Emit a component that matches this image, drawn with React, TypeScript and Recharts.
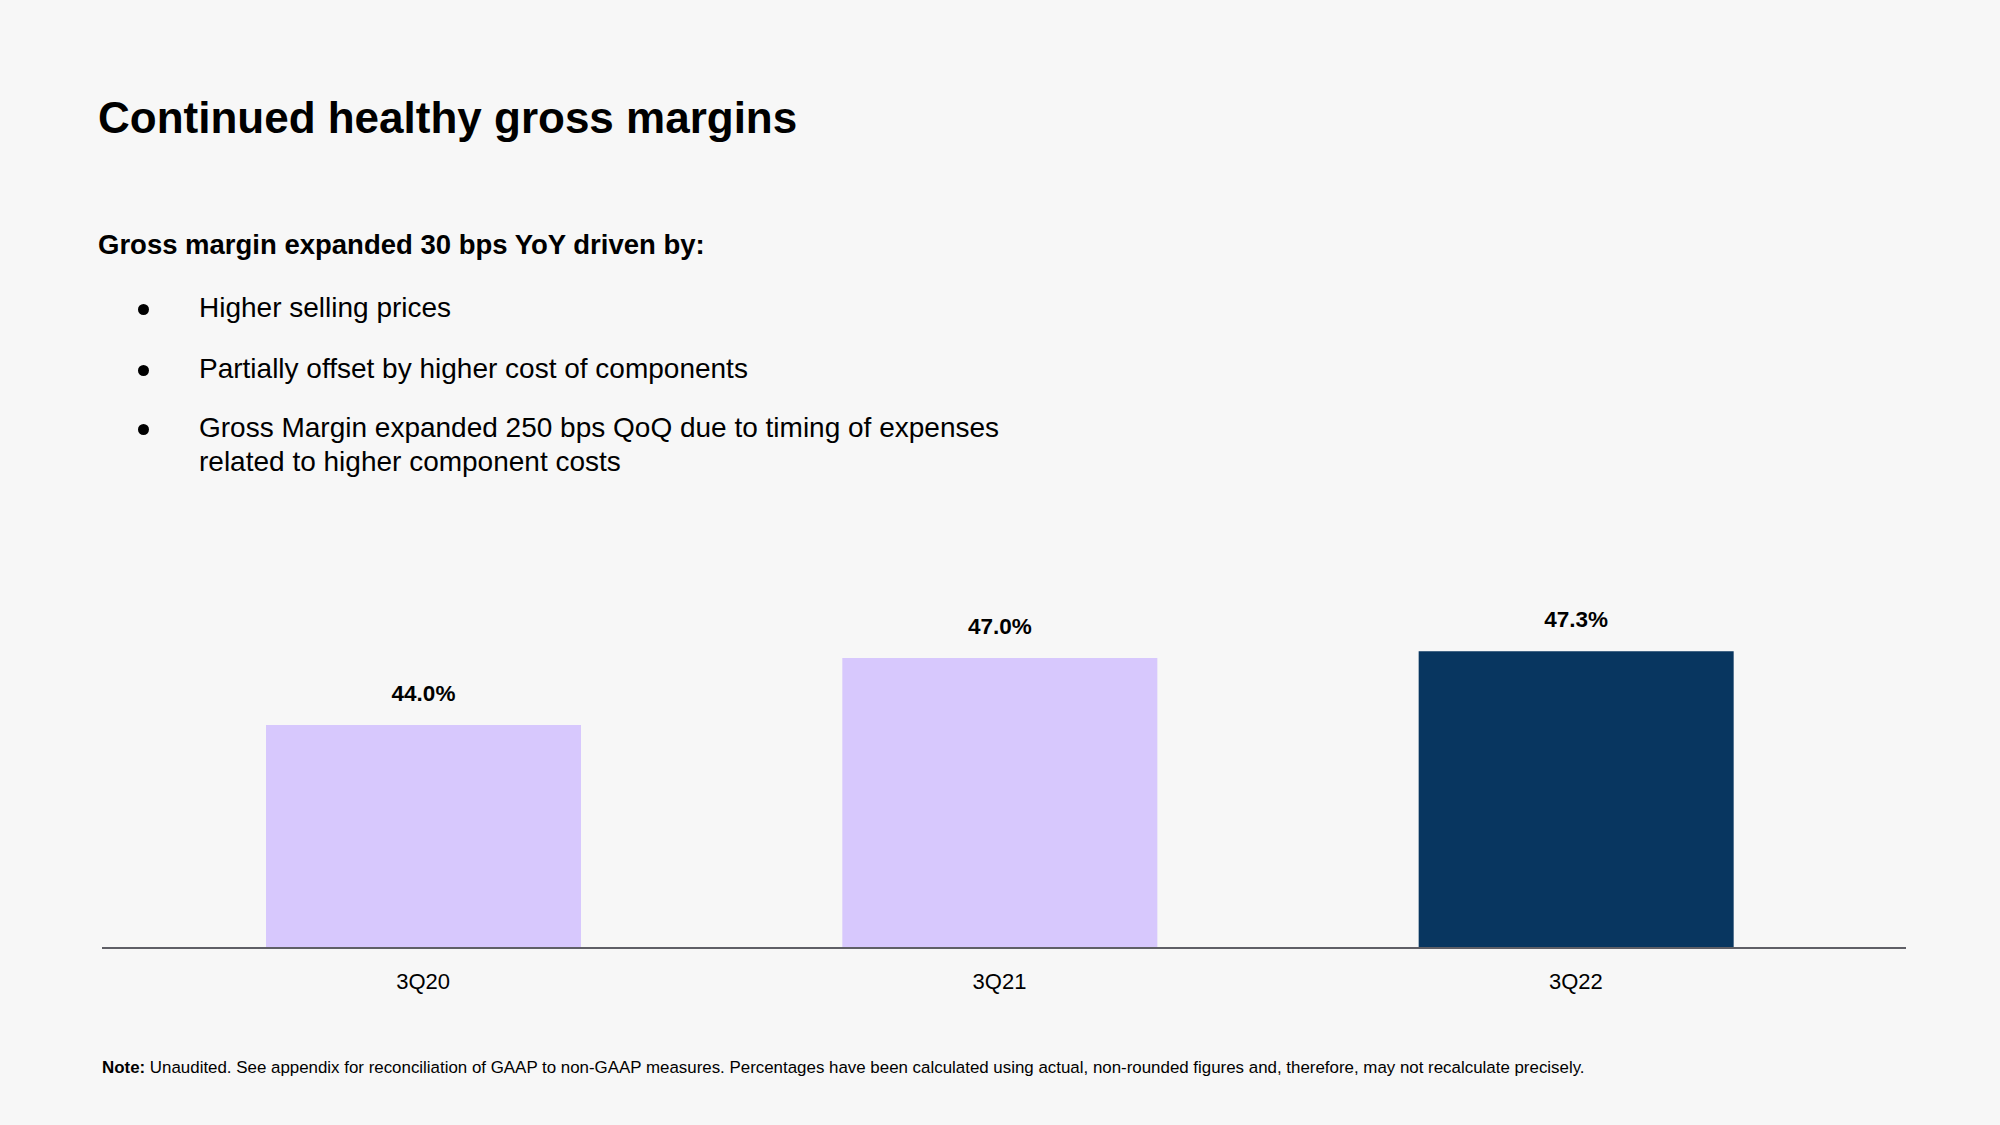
import { Bar, BarChart, Cell, LabelList, XAxis, YAxis } from 'recharts';

const quarters = ['3Q20', '3Q21', '3Q22'];
const grossMargin = [44.0, 47.0, 47.3];
const barColors = ['#D7C8FD', '#D7C8FD', '#083660'];

const bullets = [
  'Higher selling prices',
  'Partially offset by higher cost of components',
  'Gross Margin expanded 250 bps QoQ due to timing of expenses related to higher component costs',
];

const FONT = '"Liberation Sans", Arial, Helvetica, sans-serif';

const data = quarters.map((q, i) => ({ quarter: q, margin: grossMargin[i] }));

export default function App() {
  const bulletTops = [291, 352, 411];
  return (
    <div
      style={{
        position: 'absolute',
        left: 0,
        top: 0,
        width: 2000,
        height: 1125,
        background: '#F7F7F7',
        fontFamily: FONT,
        color: '#000',
        overflow: 'hidden',
      }}
    >
      <div
        style={{ position: 'absolute', left: 98, top: 96, fontSize: 44, lineHeight: 1, fontWeight: 700, whiteSpace: 'nowrap' }}
      >
        Continued healthy gross margins
      </div>
      <div
        style={{ position: 'absolute', left: 98, top: 231, fontSize: 27.5, lineHeight: 1, fontWeight: 700, whiteSpace: 'nowrap' }}
      >
        Gross margin expanded 30 bps YoY driven by:
      </div>
      {bullets.map((b, i) => (
        <div key={b}>
          <div
            style={{
              position: 'absolute',
              left: 137.5,
              top: bulletTops[i] + 13,
              width: 11,
              height: 11,
              borderRadius: '50%',
              background: '#000',
            }}
          />
          <div
            style={{
              position: 'absolute',
              left: 199,
              top: bulletTops[i],
              width: 830,
              fontSize: 28,
              lineHeight: '34px',
            }}
          >
            {b}
          </div>
        </div>
      ))}

      <div style={{ position: 'absolute', left: 0, top: 0 }}>
        <BarChart
          width={2000}
          height={1125}
          data={data}
          margin={{ top: 591, right: 94, bottom: 137, left: 102 }}
        >
          <YAxis hide domain={[34, 50]} />
          <XAxis
            dataKey="quarter"
            height={40}
            padding={{ left: 33, right: 42 }}
            tickLine={false}
            tickMargin={19}
            axisLine={{ stroke: '#5F5F66', strokeWidth: 2 }}
            tick={{ fontSize: 22, fill: '#000', fontFamily: FONT }}
          />
          <Bar dataKey="margin" barSize={315} isAnimationActive={false}>
            {data.map((d, i) => (
              <Cell key={d.quarter} fill={barColors[i]} />
            ))}
            <LabelList
              dataKey="margin"
              position="top"
              offset={24}
              formatter={(v: number) => `${v.toFixed(1)}%`}
              style={{ fontSize: 22.5, fontWeight: 700, fill: '#000', fontFamily: FONT }}
            />
          </Bar>
        </BarChart>
      </div>

      <div
        style={{ position: 'absolute', left: 102, top: 1060, fontSize: 16.9, lineHeight: 1, whiteSpace: 'nowrap' }}
      >
        <b>Note:</b> Unaudited. See appendix for reconciliation of GAAP to non-GAAP measures. Percentages have been
        calculated using actual, non-rounded figures and, therefore, may not recalculate precisely.
      </div>
    </div>
  );
}
